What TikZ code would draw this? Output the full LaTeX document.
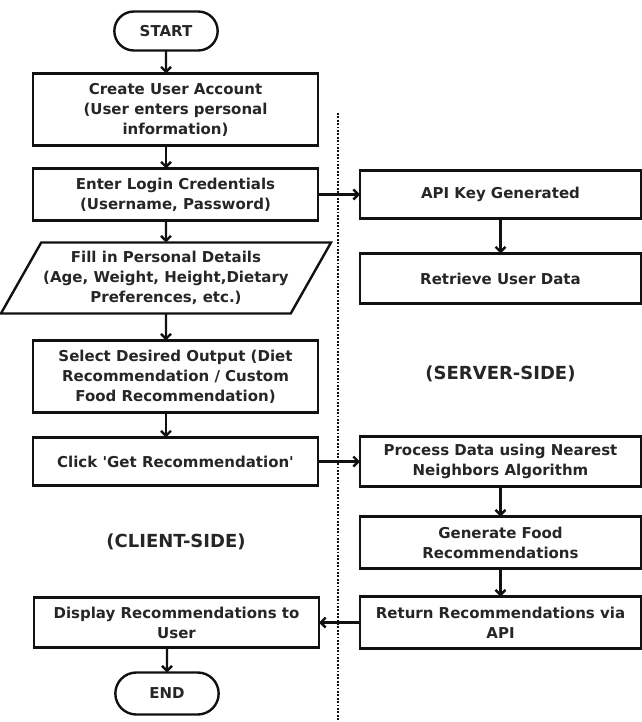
\documentclass[tikz,border=0pt]{standalone}
\usepackage{fontspec}
\setmainfont{DejaVu Sans}
\usepackage{xcolor}
\definecolor{cLine}{HTML}{111111}
\definecolor{cText}{HTML}{262626}
\usepackage{tikz}
\usetikzlibrary{positioning,arrows.meta,shapes.geometric,shapes.misc,calc}
\tikzset{
  node-box/.style={draw=cLine,line width=2.4pt,minimum width=285pt,inner sep=2pt,outer sep=0pt,
    align=center,text=cText,font=\fontsize{15}{20}\selectfont\bfseries},
  node-srv/.style={node-box,minimum width=281pt},
  node-term/.style={draw=cLine,line width=2.4pt,rounded rectangle,minimum width=110pt,outer sep=0pt,
    minimum height=39pt,text=cText,font=\fontsize{15}{20}\selectfont\bfseries},
  node-io/.style={node-box,trapezium,trapezium left angle=55,trapezium right angle=125,
    trapezium stretches body,minimum width=318pt},
  % client / server lanes, split by the dotted line
  lane-label/.style={text=cText,font=\fontsize{18}{20}\selectfont\bfseries},
  lane-sep/.style={draw=cLine,line width=2.6pt,dash pattern=on 1.8pt off 1.6pt},
  arrow/.style={-{Straight Barb[length=5pt,width=10pt]},line width=2.4pt,draw=cLine},
}
\begin{document}
\begin{tikzpicture}
  \useasboundingbox (0,0) rectangle (641pt,-722pt);
  % client side
  \node[node-term] (start) at (166pt,-31pt) {START};
  \node[node-box,minimum height=72pt,below=23pt of start,xshift=9.5pt] (acct)
    {Create User Account\\(User enters personal\\information)};
  \node[node-box,minimum height=52pt,below=23pt of acct] (login)
    {Enter Login Credentials\\(Username, Password)};
  \node[node-io,minimum height=71pt,below=22pt of login,xshift=-9.5pt] (info)
    {Fill in Personal Details\\(Age, Weight, Height,Dietary\\Preferences, etc.)};
  \node[node-box,minimum height=72pt,below=27pt of info,xshift=9.5pt] (select)
    {Select Desired Output (Diet\\Recommendation / Custom\\Food Recommendation)};
  \node[node-box,minimum height=48pt,below=25pt of select] (click)
    {Click \textquotesingle Get Recommendation\textquotesingle};
  % server side
  \node[node-srv,minimum height=48pt,right=42pt of login] (api) {API Key Generated};
  \node[node-srv,minimum height=50pt,below=35pt of api] (retr) {Retrieve User Data};
  \node[node-srv,minimum height=50pt,right=42pt of click] (proc)
    {Process Data using Nearest\\Neighbors Algorithm};
  \node[node-srv,minimum height=52pt,below=30pt of proc] (gen)
    {Generate Food\\Recommendations};
  \node[node-srv,minimum height=52pt,below=28pt of gen] (ret)
    {Return Recommendations via\\API};
  \node[node-box,minimum height=50pt,left=41pt of ret] (display)
    {Display Recommendations to\\User};
  \node[node-term,minimum height=42pt,below=25pt of display,xshift=-9.5pt] (end) {END};
  \node[lane-label,yshift=-4pt] (srv-lbl) at ($(retr.south)!0.5!(proc.north)$) {(SERVER-SIDE)};
  \node[lane-label] (cli-lbl) at ($(click.south)!0.5!(display.north)$) {(CLIENT-SIDE)};
  \coordinate (sep-top) at (338pt,-113pt);
  \coordinate (sep-bot) at (338pt,-722pt);
  \draw[lane-sep] (sep-top) -- (sep-bot);
  \draw[arrow] (start) -- (acct.north -| start);
  \draw[arrow] (acct.south -| start) -- (login.north -| start);
  \draw[arrow] (login.south -| info) -- (info);
  \draw[arrow] (info) -- (select.north -| info);
  \draw[arrow] (select.south -| info) -- (click.north -| info);
  \draw[arrow] (login) -- (api);
  \draw[arrow] (api) -- (retr);
  \draw[arrow] (click) -- (proc);
  \draw[arrow] (proc) -- (gen);
  \draw[arrow] (gen) -- (ret);
  \draw[arrow] (ret) -- (display);
  \draw[arrow] (display.south -| end) -- (end);
\end{tikzpicture}
\end{document}
